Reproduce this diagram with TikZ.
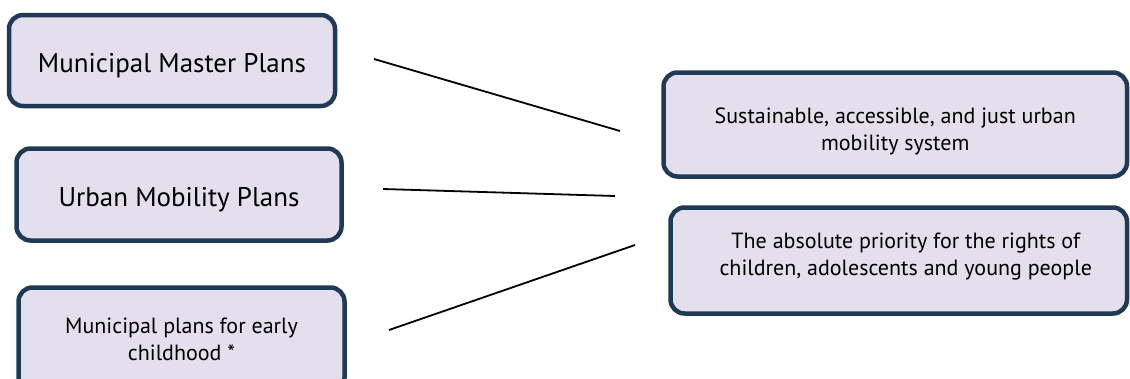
\documentclass[tikz,border=0pt]{standalone}
\usepackage{fontspec}
\setmainfont{PT Sans}
\definecolor{boxfill}{HTML}{E4DFEC}
\definecolor{boxline}{HTML}{203A55}
\begin{document}
\begin{tikzpicture}[x=1pt,y=-1pt,
  box/.style={draw=boxline, fill=boxfill, line width=4.5pt, rounded corners=14pt, align=center, inner sep=0pt},
  bigtext/.style={font=\fontsize{27}{32}\selectfont},
  smalltext/.style={font=\fontsize{22}{27}\selectfont},
  conn/.style={line width=1.8pt, draw=black}]
\useasboundingbox (0,0) rectangle (1130,378);
\clip (0,0) rectangle (1130,378);
\node[box, bigtext, minimum width=326pt, minimum height=91pt] (mmp) at (172,60.5) {\rule{0pt}{29pt}Municipal Master Plans};
\node[box, bigtext, minimum width=325pt, minimum height=92pt] (ump) at (179,194.5) {\rule{0pt}{29pt}Urban Mobility Plans};
\node[box, smalltext, minimum width=326pt, minimum height=104pt] (mpe) at (181.5,339.5) {Municipal plans for early\\childhood *};
\node[box, smalltext, minimum width=463.5pt, minimum height=104pt] (sys) at (895.25,124.5) {\rule{0pt}{30pt}Sustainable, accessible, and just urban\\mobility system};
\node[box, smalltext, minimum width=456.5pt, minimum height=106pt] (pri) at (898.75,260.5) {\hspace*{14pt}The absolute priority for the rights of\\\hspace*{14pt}children, adolescents and young people\\[-14pt]};
\coordinate (a1) at (374,59);  \coordinate (b1) at (620,131);
\coordinate (a2) at (383,189); \coordinate (b2) at (615,196);
\coordinate (a3) at (389,330); \coordinate (b3) at (635,245);
\draw[conn] (a1) -- (b1);
\draw[conn] (a2) -- (b2);
\draw[conn] (a3) -- (b3);
\end{tikzpicture}
\end{document}
